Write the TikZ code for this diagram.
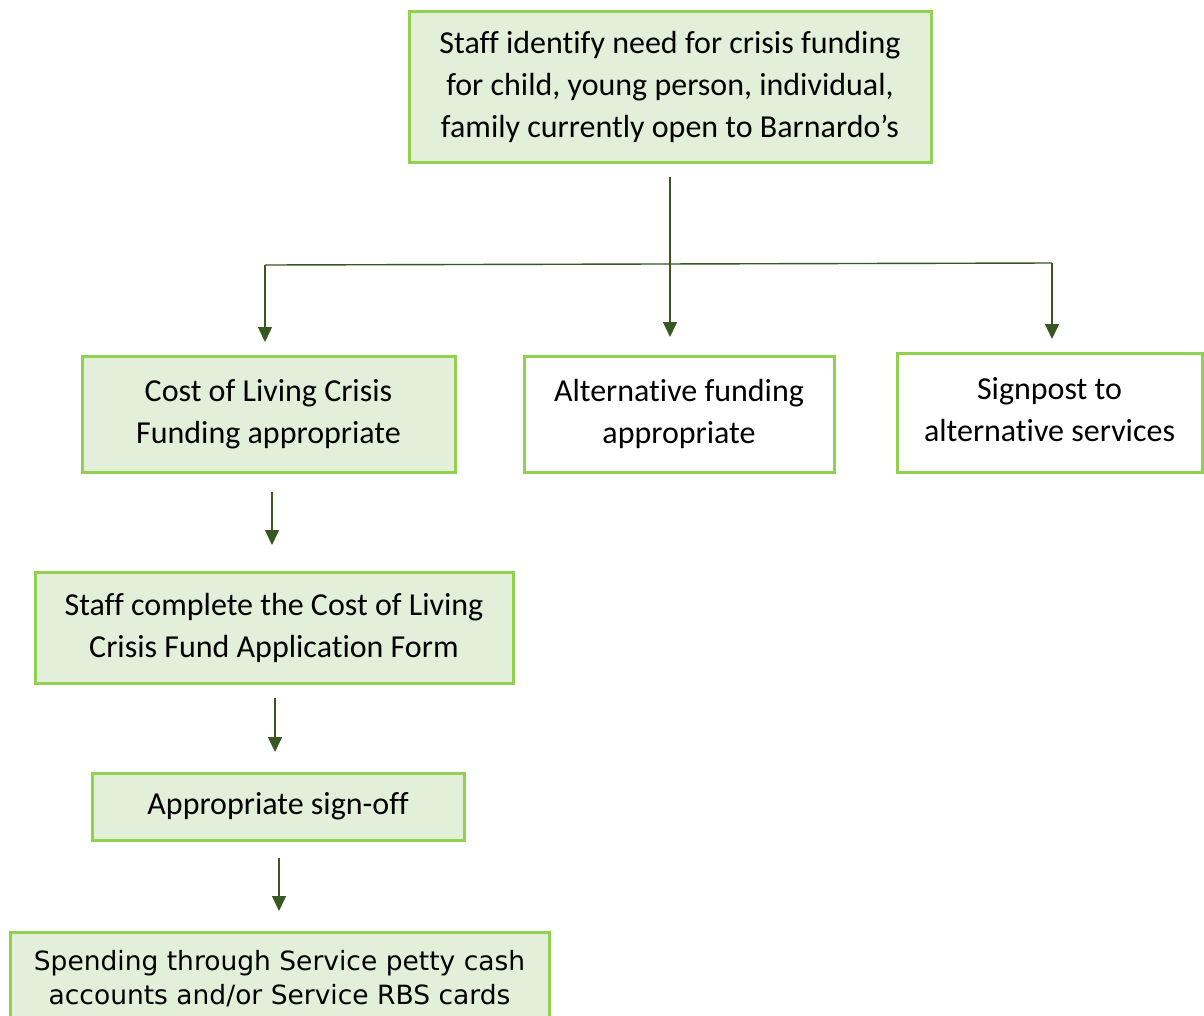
\documentclass[tikz,border=0pt]{standalone}
\usepackage{fontspec}
\setmainfont[Ligatures={NoCommon}]{Carlito}
\newfontfamily\verd{DejaVu Sans}
\usetikzlibrary{arrows.meta,calc}
\definecolor{boxfill}{HTML}{E2EFD9}
\definecolor{boxline}{HTML}{92D050}
\definecolor{arrcol}{HTML}{385723}
\begin{document}
\begin{tikzpicture}[x=1pt,y=-1pt,
  box/.style={draw=boxline, line width=3pt, fill=boxfill, inner sep=0pt, outer sep=0pt, align=center,
    font=\fontsize{32}{42}\selectfont},
  wbox/.style={box, fill=white},
  conn/.style={draw=arrcol, line width=1.4pt},
  arr/.style={conn, -{Triangle[width=14pt,length=15pt]}}]
\useasboundingbox (0,0) rectangle (1204,1015);
\clip (0,0) rectangle (1204,1015);
\fill[white] (0,0) rectangle (1204,1015);
\node[box, minimum width=522, minimum height=151] (top) at (670,86.5)
  {Staff identify need for crisis funding\\for child, young person, individual,\\family currently open to Barnardo’s};
\node[box, minimum width=373, minimum height=116] (cost) at (268.5,414)
  {Cost of Living Crisis\\Funding appropriate};
\node[wbox, minimum width=310, minimum height=116] (alt) at (679,414)
  {Alternative funding\\appropriate};
\node[wbox, minimum width=305, minimum height=119] (sign) at (1049.5,412.5)
  {\raisebox{4pt}{\begin{tabular}{@{}c@{}}Signpost to\\alternative services\end{tabular}}};
\node[box, minimum width=478, minimum height=111] (staff) at (274,627.5)
  {Staff complete the Cost of Living\\Crisis Fund Application Form};
\node[box, minimum width=372, minimum height=67] (signoff) at (278,806.5)
  {Appropriate sign-off};
\node[box, minimum width=539, minimum height=94, font=\verd\fontsize{26.5}{34}\selectfont] (spend) at (279.5,979)
  {Spending through Service petty cash\\accounts and/or Service RBS cards};
% connectors
\coordinate (tstart) at (670,177);
\coordinate (hl) at (265,265);
\coordinate (hr) at (1052,263);
\draw[conn] (hl) -- (hr);
\draw[arr, shorten >=19pt] (tstart) -- (tstart |- alt.north);
\draw[arr, shorten >=14pt] (hl) -- (hl |- cost.north);
\draw[arr, shorten >=14pt] (hr) -- (hr |- sign.north);
\draw[arr, shorten <=20pt, shorten >=27pt] (272,0 |- cost.south) -- (272,0 |- staff.north);
\draw[arr, shorten <=15pt, shorten >=21pt] (275,0 |- staff.south) -- (275,0 |- signoff.north);
\draw[arr, shorten <=18pt, shorten >=21pt] (279,0 |- signoff.south) -- (279,0 |- spend.north);
\end{tikzpicture}
\end{document}
